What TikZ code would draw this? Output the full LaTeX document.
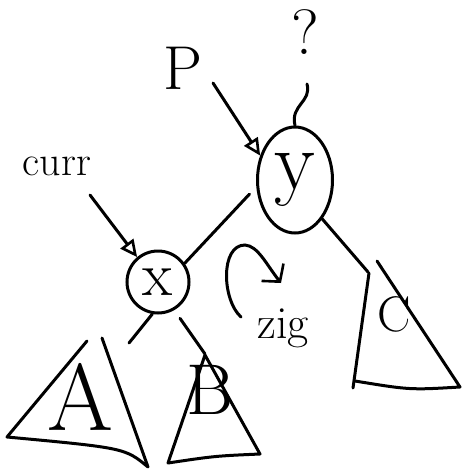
\documentclass[tikz,border=0pt]{standalone}
\usepackage{tikz}
\usetikzlibrary{positioning,arrows.meta,shapes.geometric,calc}
\tikzset{
  tnode/.style ={circle, draw=black, line width=3pt, minimum size=62pt, inner sep=0pt},
  tnodey/.style={ellipse, draw=black, line width=3pt, minimum width=75pt, minimum height=106pt, inner sep=0pt},
  hand/.style  ={inner sep=0pt, font=\fontsize{#1}{#1}\selectfont},
  edge/.style  ={line width=3pt, line cap=round},
  ptr/.style   ={-{Triangle[open, length=17pt, width=16pt, line width=2.6pt]}, line width=3pt, line cap=round},
  turn/.style  ={-{Straight Barb[length=12pt, width=28pt, line width=2.6pt]}, line width=3pt, line cap=round},
  subtree/.style={line width=3pt, line cap=round, line join=round},
}
\begin{document}
\begin{tikzpicture}[x=1pt, y=-1pt]
        \useasboundingbox (0,0) rectangle (461,474);
        \node[tnodey, font=\fontsize{84}{84}\selectfont] (y) at (295,180) {y};
        \node[tnode, font=\fontsize{62}{62}\selectfont]  (x) at (158,282) {x};
        \node[hand=62] (P)    at (183,68)  {P};
        \node[hand=42] (curr) at (57,166)  {curr};
        \node[hand=64] (q)    at (305,32)  {?};
        \node[hand=46] (zig)  at (283,328) {zig};
        \node[hand=95] (A)    at (80,397)  {A};
        \node[hand=72] (B)    at (210,390) {B};
        \node[hand=50] (C)    at (394,314) {C};
        \coordinate (pT)    at (213,83);
        \coordinate (currT) at (90,195);
        \coordinate (qS)    at (307,84);
        \coordinate (aT)    at (129,343);
        \coordinate (bT)    at (205,354);
        \coordinate (cTop)  at (368,272);
        \coordinate (zS)    at (241,317);
        \coordinate (zE)    at (281,283);
        \draw[ptr] (pT) -- (y.145);
        \draw[ptr] (currT) -- (x.130);
        \draw[edge] (qS) .. controls (312,102) and (290,105) .. (y.north);
        \draw[edge, shorten >=10pt] (x.35) -- (y.190);
        \draw[edge] (x.260) -- (aT);
        \draw[edge, shorten <=10pt] (x.-60) -- (bT);
        \draw[edge] (y.-55) -- (cTop);
        \draw[turn] (zS) .. controls (222,300) and (220,245) .. (245,245)
                         .. controls (258,246) and (266,264) .. (zE);
        % subtrees
        \draw[subtree] (87,341) -- (7,437) .. controls (125,448) .. (148,467) -- (102,338);
        \draw[subtree] (205,355) -- (168,463) .. controls (215,456) .. (260,454) -- cycle;
        \draw[subtree] (369,273) -- (353,388);
        \draw[subtree] (355,381) .. controls (410,390) .. (460,387) -- (377,261);
      \end{tikzpicture}
\end{document}
